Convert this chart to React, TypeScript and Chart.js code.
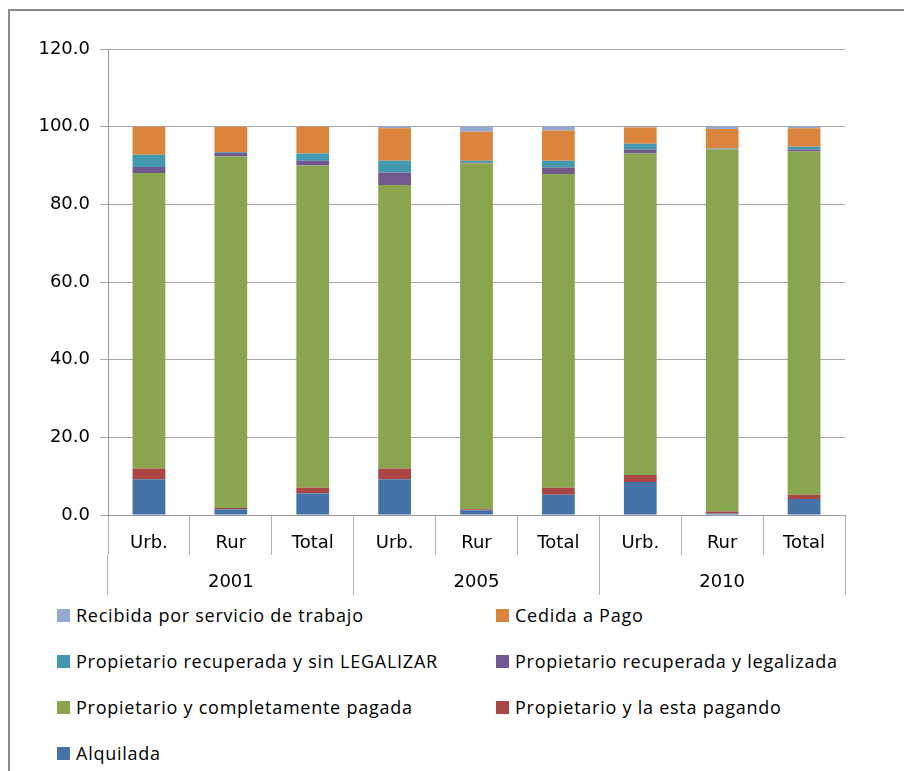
import React, { useEffect, useRef } from "react";
import { Chart, registerables } from "chart.js";

Chart.register(...registerables);

const CATEGORIES = ["Urb.", "Rur", "Total", "Urb.", "Rur", "Total", "Urb.", "Rur", "Total"];
const YEARS = ["2001", "2005", "2010"];

const ALQUILADA = [9.2, 1.5, 5.6, 9.2, 1.2, 5.2, 8.5, 0.4, 4.1];
const PAGANDO = [2.8, 0.3, 1.4, 2.8, 0.3, 1.8, 1.8, 0.5, 1.1];
const PAGADA = [76.1, 90.5, 83.0, 73.0, 89.1, 80.8, 82.8, 93.2, 88.4];
const LEGALIZADA = [1.5, 0.9, 1.2, 3.2, 0.2, 1.7, 1.0, 0.1, 0.5];
const SIN_LEGALIZAR = [3.2, 0.2, 1.9, 3.0, 0.4, 1.7, 1.5, 0.2, 0.7];
const CEDIDA = [7.2, 6.6, 6.9, 8.4, 7.5, 7.8, 4.2, 5.0, 4.8];
const RECIBIDA = [0.0, 0.0, 0.0, 0.4, 1.3, 1.0, 0.2, 0.6, 0.4];

const SERIES = [
  { label: "Alquilada", data: ALQUILADA, color: "#4572A7" },
  { label: "Propietario y la esta pagando", data: PAGANDO, color: "#AA4643" },
  { label: "Propietario y completamente pagada", data: PAGADA, color: "#89A54E" },
  { label: "Propietario recuperada y legalizada", data: LEGALIZADA, color: "#71588F" },
  { label: "Propietario recuperada y sin LEGALIZAR", data: SIN_LEGALIZAR, color: "#4198AF" },
  { label: "Cedida a Pago", data: CEDIDA, color: "#DB843D" },
  { label: "Recibida por servicio de trabajo", data: RECIBIDA, color: "#93A9CF" },
];

const FONT = "'Open Sans', 'DejaVu Sans', sans-serif";
const TICK_FONT = "'DejaVu Sans', 'Open Sans', sans-serif";

export default function App() {
  const ref = useRef<HTMLCanvasElement | null>(null);

  useEffect(() => {
    if (!ref.current) return;
    const chart = new Chart(ref.current, {
      type: "bar",
      data: {
        labels: CATEGORIES,
        datasets: SERIES.map((s) => ({
          label: s.label,
          data: s.data,
          backgroundColor: s.color,
          borderWidth: 0,
          barPercentage: 0.4,
          categoryPercentage: 1,
          xAxisID: "x",
        })),
      },
      options: {
        responsive: false,
        animation: false,
        layout: { padding: { left: 0, top: 49, right: 59, bottom: 5 } },
        plugins: { legend: { display: false }, tooltip: { enabled: false } },
        scales: {
          x: {
            type: "category",
            position: "bottom",
            stacked: true,
            offset: true,
            weight: 0,
            grid: {
              offset: true,
              drawOnChartArea: false,
              drawTicks: true,
              tickLength: 40,
              color: "#b4b4b4",
            },
            border: { display: true, color: "#9a9a9a" },
            ticks: {
              font: { family: TICK_FONT, size: 18 },
              color: "#000",
              padding: -22,
              maxRotation: 0,
              autoSkip: false,
            },
            afterFit: (s: any) => {
              s.height = 40;
            },
          },
          xYear: {
            type: "category",
            position: "bottom",
            labels: YEARS,
            offset: true,
            weight: 1,
            grid: {
              offset: true,
              drawOnChartArea: false,
              drawTicks: true,
              tickLength: 40,
              color: "#b4b4b4",
            },
            border: { display: false },
            ticks: {
              font: { family: TICK_FONT, size: 18 },
              color: "#000",
              padding: -23,
              maxRotation: 0,
            },
            afterFit: (s: any) => {
              s.height = 40;
            },
          },
          y: {
            stacked: true,
            min: 0,
            max: 120,
            ticks: {
              stepSize: 20,
              font: { family: TICK_FONT, size: 18 },
              color: "#000",
              padding: 10,
              callback: (v: any) => Number(v).toFixed(1),
            },
            grid: { color: "#a6a6a6", tickLength: 8 },
            border: { display: true, color: "#9a9a9a" },
            afterFit: (s: any) => {
              s.width = 108;
            },
          },
        },
      },
    });
    return () => chart.destroy();
  }, []);

  const legendItems = [...SERIES].reverse();

  return (
    <div
      style={{
        position: "fixed",
        left: 0,
        top: 0,
        width: 904,
        height: 771,
        overflow: "hidden",
        background: "#fff",
        fontFamily: FONT,
      }}
    >
      <div
        style={{
          position: "absolute",
          left: 8,
          top: 9,
          width: 1000,
          height: 1000,
          borderLeft: "2px solid #8a8a8a",
          borderTop: "2px solid #8a8a8a",
        }}
      />
      <canvas
        ref={ref}
        width={904}
        height={600}
        style={{ position: "absolute", left: 0, top: 0, width: 904, height: 600 }}
      />
      {legendItems.map((s, i) => {
        const col = i % 2;
        const row = Math.floor(i / 2);
        const left = col === 0 ? 57 : 496;
        const cy = 615 + row * 46;
        return (
          <div
            key={s.label}
            style={{
              position: "absolute",
              left,
              top: cy - 14,
              height: 28,
              display: "flex",
              alignItems: "center",
              whiteSpace: "nowrap",
              fontSize: 18,
              letterSpacing: 0.75,
              color: "#000",
            }}
          >
            <span
              style={{
                display: "inline-block",
                width: 13,
                height: 13,
                background: s.color,
                marginRight: 6,
              }}
            />
            <span>{s.label}</span>
          </div>
        );
      })}
    </div>
  );
}
